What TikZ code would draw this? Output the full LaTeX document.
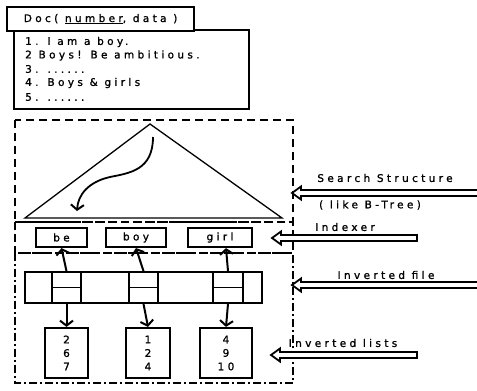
\documentclass[tikz,border=0pt]{standalone}
\usepackage{fontspec}
\newfontfamily\lbfont{DejaVu Sans}[LetterSpace=32,FakeBold=1.2]
\usetikzlibrary{arrows.meta,calc}
\begin{document}
\begin{tikzpicture}[x=1pt,y=-1pt,
  txt/.style={font=\lbfont\fontsize{10.5}{13.5}\selectfont, inner sep=0pt},
  box/.style={draw, line width=2.2pt, inner sep=0pt, font=\lbfont\fontsize{10.5}{13.5}\selectfont},
  cellbox/.style={draw, line width=1.8pt, inner sep=0pt},
  conn/.style={line width=2pt, -{Straight Barb[length=5pt,width=13pt,line width=2pt]}},
  srch/.style={line width=2.2pt, dash pattern=on 8pt off 5pt},
  idx/.style={line width=2.2pt, dash pattern=on 8pt off 4pt},
  inv/.style={line width=2.2pt, dash pattern=on 8pt off 3pt on 2pt off 3pt},
  hollow/.style={draw, line width=1.8pt, fill=white},
]
\useasboundingbox (0,0) rectangle (477,391);

% Doc box
\node[box, minimum width=235, minimum height=79, anchor=north west] (docbody) at (13,29) {};
\node[box, fill=white, minimum width=187, minimum height=24, anchor=north west] (dochead) at (6,6) {Doc( \underline{number}, data )};
\node[txt, anchor=west] (d1) at (25,42) {1. I am a boy.};
\node[txt, anchor=west] (d2) at (25,55.5) {2 Boys! Be ambitious.};
\node[txt, anchor=west] (d3) at (25,69) {3. ......};
\node[txt, anchor=west] (d4) at (25,83) {4. Boys \& girls};
\node[txt, anchor=west] (d5) at (25,97) {5. ......};

% regions
\draw[srch] (15,120) rectangle (293,222);
\draw[idx] (15,222) rectangle (293,253);
\draw[inv] (15,253) rectangle (293,383);

% triangle (search structure)
\draw[line width=1.3pt] (150,124) -- (25,218) -- (282,218) -- cycle;
\draw[conn, line width=1.8pt] (153,137) .. controls (153,170) and (130,173) .. (110,177)
      .. controls (88,182) and (78,195) .. (77,211);

% indexer words
\node[box, minimum width=51, minimum height=19] (be) at (61.5,237.5) {be};
\node[box, minimum width=60, minimum height=19] (boy) at (136,237.5) {boy};
\node[box, minimum width=64, minimum height=19] (girl) at (220,237.5) {girl};

% inverted file array
\node[cellbox, minimum width=237, minimum height=31] (arr) at (143.5,287.5) {};
\node[cellbox, minimum width=29, minimum height=31] (c1) at (66.5,287.5) {};
\node[cellbox, minimum width=29, minimum height=31] (c2) at (143.5,287.5) {};
\node[cellbox, minimum width=30, minimum height=31] (c3) at (228,287.5) {};
\draw[line width=1.8pt] (c1.west) -- (c1.east);
\draw[line width=1.8pt] (c2.west) -- (c2.east);
\draw[line width=1.8pt] (c3.west) -- (c3.east);

% inverted lists
\node[box, minimum width=43, minimum height=50, align=center] (l1) at (66.5,353) {2\\6\\7};
\node[box, minimum width=44, minimum height=50, align=center] (l2) at (148,353) {1\\2\\4};
\node[box, minimum width=52, minimum height=50, align=center] (l3) at (226,353) {4\\9\\10};

% connectors
\draw[conn] (c1.north) -- (be.south);
\draw[conn] (c2.north) -- (boy.south);
\draw[conn] (c3.north) -- ($(girl.south)+(6,0)$);
\draw[conn] (c1.south) -- (l1.north);
\draw[conn] (c2.south) -- (l2.north);
\draw[conn] (c3.south) -- (l3.north);

% right-hand labels and hollow arrows
\node[txt] (lss) at (385,178) {Search Structure};
\node[txt] (lbt) at (370,205) {( like B-Tree)};
\node[txt] (lix) at (345,227) {Indexer};
\node[txt] (lif) at (386,275) {Inverted file};
\node[txt] (lil) at (343,343) {Inverted lists};

\coordinate (t1) at (292,193);
\coordinate (t2) at (272,238);
\coordinate (t3) at (292,285);
\coordinate (t4) at (271,355);
\draw[hollow] (t1) -- ++(9,-6.5) -- ++(0,3.5) -- ++(190,0) -- ++(0,6) -- ++(-190,0) -- ++(0,3.5) -- cycle;
\draw[hollow] (t2) -- ++(9,-6.5) -- ++(0,3.5) -- ++(136,0) -- ++(0,6) -- ++(-136,0) -- ++(0,3.5) -- cycle;
\draw[hollow] (t3) -- ++(9,-6.5) -- ++(0,3.5) -- ++(190,0) -- ++(0,6) -- ++(-190,0) -- ++(0,3.5) -- cycle;
\draw[hollow] (t4) -- ++(9,-6.5) -- ++(0,3.5) -- ++(137,0) -- ++(0,6) -- ++(-137,0) -- ++(0,3.5) -- cycle;
\end{tikzpicture}
\end{document}
